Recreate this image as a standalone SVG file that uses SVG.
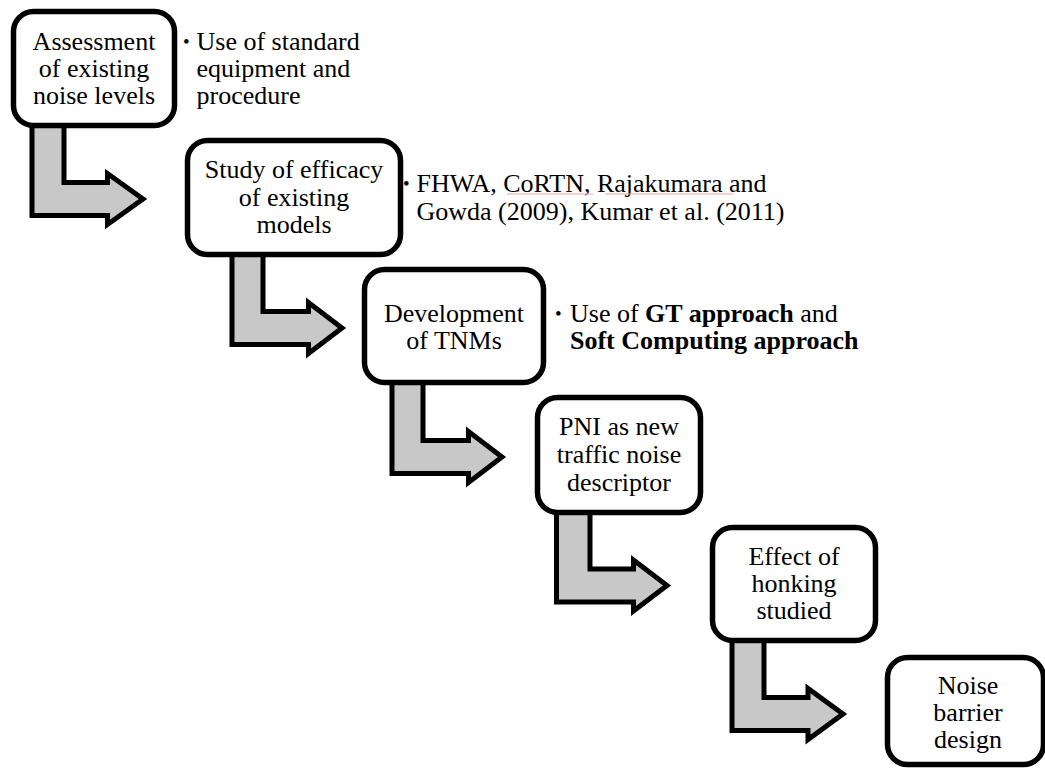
<svg xmlns="http://www.w3.org/2000/svg" width="1045" height="769" viewBox="0 0 1045 769">
<style>
.box{fill:#fff;stroke:#000;stroke-width:5.5}
.arr{fill:#c8c8c8;stroke:#000;stroke-width:5;stroke-linejoin:miter;stroke-miterlimit:10}
text{font-family:"Liberation Serif","Times New Roman",serif;font-size:26px;fill:#000}
.c{text-anchor:middle}
.b{font-weight:bold}
.dot{font-size:19px}
.sq{stroke:#f2a3a3;stroke-width:1;fill:none}
</style>
<rect width="1045" height="769" fill="#fff"/>
<g id="connectors">
<path class="arr" d="M32 120 L64 120 L64 182.5 L107.5 182.5 L107.5 173.5 L143 199 L107.5 224.5 L107.5 215.5 L32 215.5 Z"/>
<path class="arr" d="M232 250 L263 250 L263 311.5 L308.5 311.5 L308.5 302.5 L342 328 L308.5 353.5 L308.5 344.5 L232 344.5 Z"/>
<path class="arr" d="M392 378 L423 378 L423 440.5 L468.5 440.5 L468.5 431.5 L502 457 L468.5 482.5 L468.5 473.5 L392 473.5 Z"/>
<path class="arr" d="M556.5 508 L590 508 L590 569 L633.5 569 L633.5 560 L667 585.5 L633.5 611 L633.5 602 L556.5 602 Z"/>
<path class="arr" d="M732 636 L764 636 L764 697.5 L808 697.5 L808 688.5 L843 714 L808 739.5 L808 730.5 L732 730.5 Z"/>
</g>
<g id="node1">
<rect class="box" x="13.5" y="11.5" width="161" height="114" rx="20"/>
<text class="c" x="94" y="50">Assessment</text>
<text class="c" x="94" y="77">of existing</text>
<text class="c" x="94" y="104">noise levels</text>
</g>
<g id="note1">
<text class="dot" x="183" y="48">•</text>
<text x="196.5" y="50">Use of standard</text>
<text x="196.5" y="77">equipment and</text>
<text x="196.5" y="104">procedure</text>
</g>
<g id="node2">
<rect class="box" x="187.5" y="140.5" width="213" height="114" rx="20"/>
<text class="c" x="294" y="178">Study of efficacy</text>
<text class="c" x="294" y="205.5">of existing</text>
<text class="c" x="294" y="233">models</text>
</g>
<g id="note2">
<text class="dot" x="403" y="189.5">•</text>
<text x="416.5" y="191.5">FHWA, CoRTN, Rajakumara and</text>
<text x="416.5" y="219.5">Gowda (2009), Kumar et al. (2011)</text>
<path class="sq" d="M507 194 L593 194 M605 194 L733 194"/>
</g>
<g id="node3">
<rect class="box" x="364.5" y="269.5" width="179" height="113" rx="20"/>
<text class="c" x="454" y="321.5">Development</text>
<text class="c" x="454" y="348.5">of TNMs</text>
</g>
<g id="note3">
<text class="dot" x="555" y="319.5">•</text>
<text x="570" y="321.5">Use of <tspan class="b">GT approach</tspan> and</text>
<text class="b" x="570" y="348.5">Soft Computing approach</text>
</g>
<g id="node4">
<rect class="box" x="537.5" y="397.5" width="163" height="115" rx="20"/>
<text class="c" x="619" y="435">PNI as new</text>
<text class="c" x="619" y="463">traffic noise</text>
<text class="c" x="619" y="490.5">descriptor</text>
</g>
<g id="node5">
<rect class="box" x="712.5" y="527.5" width="163" height="113" rx="20"/>
<text class="c" x="794" y="565">Effect of</text>
<text class="c" x="794" y="592">honking</text>
<text class="c" x="794" y="619">studied</text>
</g>
<g id="node6">
<rect class="box" x="887.5" y="657.5" width="156" height="107" rx="20"/>
<text class="c" x="968" y="693.5">Noise</text>
<text class="c" x="968" y="721">barrier</text>
<text class="c" x="968" y="748">design</text>
</g>
</svg>
